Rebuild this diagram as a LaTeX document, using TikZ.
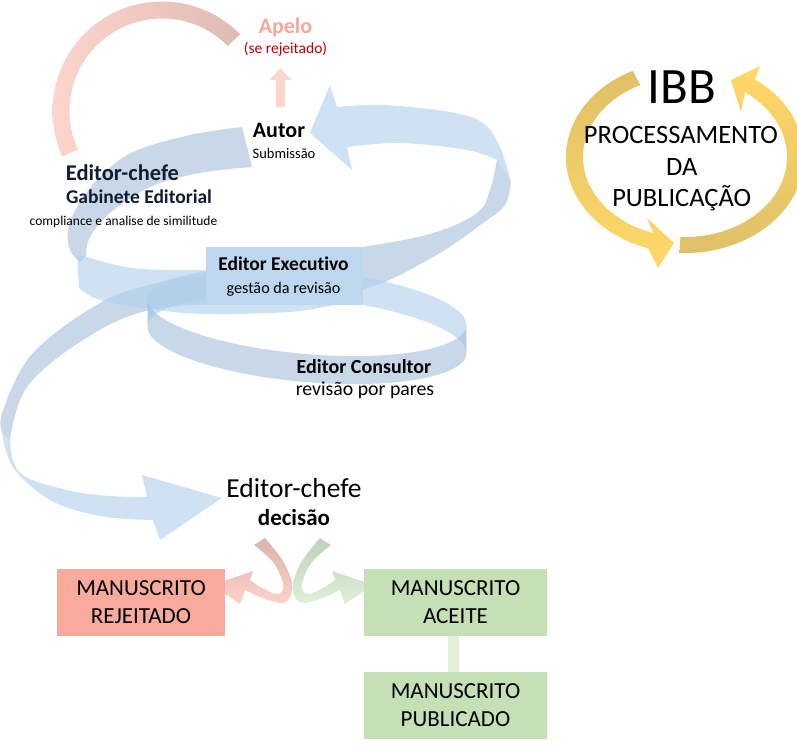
\documentclass[tikz,border=0pt]{standalone}
\usepackage{fontspec}
\setmainfont{Carlito}[Ligatures={NoCommon}]
\usetikzlibrary{arrows.meta}
\definecolor{ribL}{RGB}{175,207,235}
\definecolor{ribS}{RGB}{163,190,218}
\definecolor{exbox}{RGB}{189,215,238}
\definecolor{rejbox}{RGB}{248,171,157}
\definecolor{acbox}{RGB}{197,224,180}
\definecolor{conn}{RGB}{226,240,217}
\definecolor{pinkA}{RGB}{252,213,205}
\definecolor{roseA}{RGB}{222,188,178}
\definecolor{apelocol}{RGB}{245,168,150}
\definecolor{darkred}{RGB}{192,0,0}
\definecolor{gold}{RGB}{223,192,104}
\definecolor{yel}{RGB}{255,217,102}
\definecolor{redtop}{RGB}{220,180,172}
\definecolor{redbot}{RGB}{252,210,201}
\definecolor{grntop}{RGB}{193,210,186}
\definecolor{grnbot}{RGB}{224,239,215}
\definecolor{navy}{RGB}{18,28,48}
\newcommand\myfs[1]{\fontsize{#1}{#1}\selectfont}
\begin{document}
\begin{tikzpicture}[x=1pt,y=-1pt,line join=round,
  ribbonL/.style={fill=ribL,fill opacity=0.6},
  ribbonS/.style={fill=ribS,fill opacity=0.6},
  txt/.style={inner sep=0pt,anchor=base},
  mbox/.style={inner sep=0pt,minimum height=67pt,align=center,font=\fontsize{23}{28}\selectfont},
  sm/.style={smooth,tension=0.6}]
\useasboundingbox (0,0) rectangle (797,747);

% ---- blue spiral ribbon 1 (arrow to Autor ... arrow to decision)
\path[ribbonL] (310,133) -- (330,85) -- (337,107)
  -- plot[sm] coordinates {(337,107) (383,105) (450,112) (483,123) (500,147) (511,182)}
  -- plot[sm] coordinates {(497,160) (467,150) (400,143) (347,147)}
  -- (352,170) -- cycle;
\path[ribbonS] plot[sm] coordinates {(511,182) (505,205) (483,223) (433,257) (360,290) (250,302) (150,310) (83,340) (27,387) (10,440)}
  -- plot[sm] coordinates {(2,432) (3,410) (33,353) (100,303) (157,283) (260,262) (363,247) (433,233) (477,213) (490,190) (497,160)} -- cycle;
\path[ribbonL] plot[sm] coordinates {(2,432) (13,467) (50,500) (100,516) (153,520)}
  -- (160,540) -- (222,498) -- (142,475)
  -- plot[sm] coordinates {(147,497) (110,496) (67,490) (20,473) (10,440)} -- cycle;

% ---- ribbon 2 (Autor -> Gabinete -> ring)
\path[ribbonS] plot[sm] coordinates {(242,127) (190,135) (133,152) (100,177) (77,207) (68,230) (70,250) (80,262)}
  -- plot[sm] coordinates {(86,256) (90,237) (110,213) (150,187) (200,173) (252,167)} -- cycle;
\path[ribbonL] (77,255) -- plot[sm] coordinates {(79,288) (100,300) (157,310) (210,314) (290,312) (333,305)}
  -- (333,268) -- plot[sm] coordinates {(300,266) (207,270) (133,268) (84,256)} -- cycle;
% ring around Editor Consultor
\path[ribbonL] plot[domain=180:360,samples=60] ({307+159.4*cos(\x)-3.66*sin(\x)},{312+13.95*cos(\x)+41.84*sin(\x)})
  -- plot[domain=360:180,samples=60] ({307+159.4*cos(\x)-3.66*sin(\x)},{340+13.95*cos(\x)+41.84*sin(\x)}) -- cycle;
\path[ribbonS] plot[domain=0:180,samples=60] ({307+159.4*cos(\x)-3.66*sin(\x)},{312+13.95*cos(\x)+41.84*sin(\x)})
  -- plot[domain=180:0,samples=60] ({307+159.4*cos(\x)-3.66*sin(\x)},{340+13.95*cos(\x)+41.84*sin(\x)}) -- cycle;

% ---- appeal arc
\shade[left color=pinkA,right color=roseA]
  plot[domain=155.5:315.4,samples=60] ({162+109.5*cos(\x)},{111+109.5*sin(\x)})
  -- plot[domain=315.4:155.5,samples=60] ({162+92.5*cos(\x)},{111+92.5*sin(\x)}) -- cycle;
\coordinate (apA) at (280.5,107);
\coordinate (apB) at (280.5,68);
\draw[pinkA,line width=9pt,-{Triangle[width=21pt,length=12pt]}] (apA) -- (apB);

% ---- Editor Executivo box
\node[fill=exbox,minimum width=157pt,minimum height=58pt,inner sep=0pt] (exec) at (284.5,276) {};

% ---- decision arrows
\shade[top color=redtop,bottom color=redbot]
  plot[sm] coordinates {(265,538) (283,561) (292,583) (290,597) (282,603) (265,599) (245,590)}
  -- (240,604) -- (212,585) -- (253,571)
  -- plot[sm] coordinates {(250,580) (262,588) (276,594) (283,590) (282,580) (273,562) (254,545)} -- cycle;
\shade[top color=grntop,bottom color=grnbot]
  plot[sm] coordinates {(320,538) (302,561) (293,583) (295,597) (303,603) (320,599) (340,590)}
  -- (345,604) -- (373,585) -- (332,571)
  -- plot[sm] coordinates {(335,580) (323,588) (309,594) (302,590) (303,580) (312,562) (331,545)} -- cycle;

% ---- result boxes
\node[mbox,fill=rejbox,minimum width=168pt] (rej) at (141,602.5) {MANUSCRITO\\REJEITADO};
\node[mbox,fill=acbox,minimum width=183pt] (ace) at (455.5,602.5) {MANUSCRITO\\ACEITE};
\node[mbox,fill=acbox,minimum width=183pt] (pub) at (455.5,705.5) {MANUSCRITO\\PUBLICADO};
\draw[conn,line width=11pt] ([xshift=-2pt]ace.south) -- ([xshift=-2pt]pub.north);

% ---- texts
\node[txt,text=apelocol,font=\bfseries\myfs{22}] (apelo) at (285.5,33) {Apelo};
\node[txt,text=darkred,font=\myfs{15.5}] (serej) at (285.5,53.5) {(se rejeitado)};
\node[txt,font=\bfseries\myfs{22}] (autor) at (279,137) {Autor};
\node[txt,font=\myfs{14.5}] (subm) at (284,158.5) {Submissão};
\node[txt,text=navy,font=\bfseries\myfs{22.5}] (ecg) at (122.5,180) {Editor-chefe};
\node[txt,text=navy,font=\bfseries\myfs{19.5}] (gab) at (139,203) {Gabinete Editorial};
\node[txt,font=\myfs{13.5}] (comp) at (123.5,225.5) {compliance e analise de similitude};
\node[txt,font=\bfseries\myfs{19.5}] (exect) at (283.5,270) {Editor Executivo};
\node[txt,font=\myfs{16.2}] (gest) at (283.5,293) {gestão da revisão};
\node[txt,font=\bfseries\myfs{20}] (cons) at (364,373) {Editor Consultor};
\node[txt,font=\myfs{19.8}] (rev) at (365,395.5) {revisão por pares};
\node[txt,font=\myfs{27.5}] (ecd) at (294,497) {Editor-chefe};
\node[txt,font=\bfseries\myfs{23}] (dec) at (294,525) {decisão};

% ---- IBB cycle
\shade[top color=gold,bottom color=yel]
  plot[domain=244:108,samples=60] ({685+119*cos(\x)},{157+96*sin(\x)})
  -- (658,268) -- (674,243) -- (647,218)
  -- plot[domain=108:244,samples=60] ({685+102*cos(\x)},{157+80*sin(\x)}) -- cycle;
\shade[top color=yel,bottom color=gold]
  plot[domain=92.6:-54,samples=60] ({685+119*cos(\x)},{157+96*sin(\x)})
  -- (760,66) -- (731,80) -- (741,112)
  -- plot[domain=-54:92.6,samples=60] ({685+102*cos(\x)},{157+80*sin(\x)}) -- cycle;
\node[txt,font=\myfs{51}] (ibb) at (682,103) {IBB};
\node[txt,font=\myfs{26.5}] (proc) at (681,143) {PROCESSAMENTO};
\node[txt,font=\myfs{26.5}] (da) at (681.7,175) {DA};
\node[txt,font=\myfs{26.5}] (publ) at (681.7,206.7) {PUBLICAÇÃO};
\end{tikzpicture}
\end{document}
